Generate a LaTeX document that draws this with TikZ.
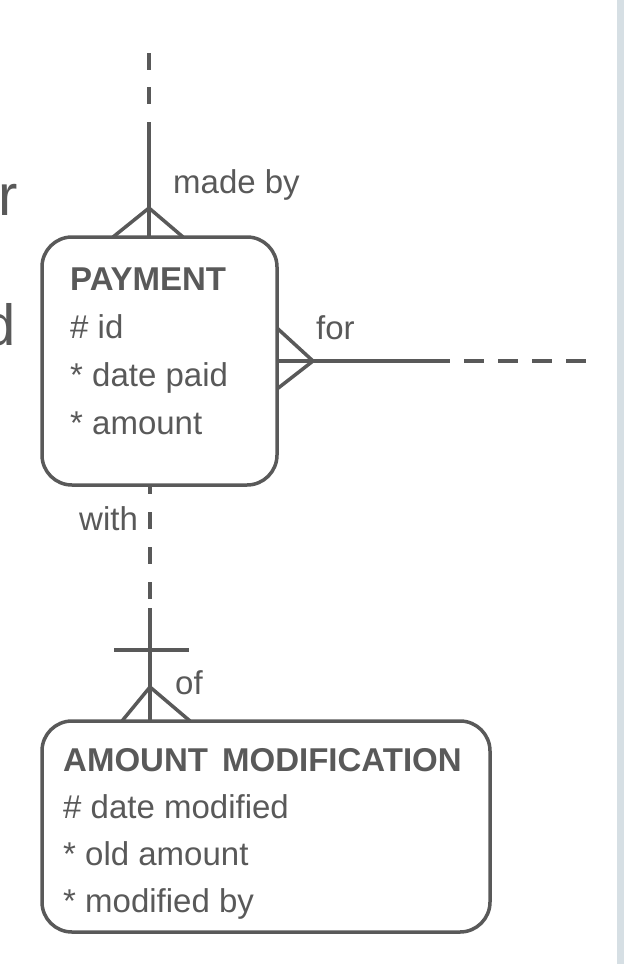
\documentclass[tikz,border=0pt]{standalone}
\usepackage{fontspec}
\setmainfont{Liberation Sans}
\usetikzlibrary{positioning, calc}
\definecolor{ergray}{RGB}{89,89,89}
\definecolor{sidebar}{RGB}{214,223,228}

\begin{document}
\begin{tikzpicture}[x=1pt, y=-1pt, every node/.style={font=\fontsize{33}{40}\selectfont, text=ergray, inner sep=0pt},
  entity/.style={draw=ergray, line width=3.5pt, rounded corners=30pt, anchor=north west, outer sep=0pt},
  rel/.style={draw=ergray, line width=3.5pt},
  attr/.style={anchor=base west},
  nbr/.style={anchor=base west, font=\fontsize{58}{60}\selectfont}]
\useasboundingbox (0,0) rectangle (624,964);
\fill[sidebar] (617,0) rectangle (624,964);
% Cut-off text of the neighbour entity
\node[nbr] (NbrR) at (-2,215) {r};
\node[nbr] (NbrD) at (-17,345) {d};
% Entities
\node[entity, minimum width=235pt, minimum height=248pt] (Payment) at (42,237) {};
\node[attr] (PayTitle) at (70,290) {\bfseries PAYMENT};
\foreach \row [count=\i] in {\# id, * date paid, * amount}
  \node[attr] (PayRow\i) at (70,290+48*\i) {\row};
\node[entity, minimum width=448pt, minimum height=211pt] (Modif) at (42,721) {};
\node[attr] (ModTitle) at (63,771) {\bfseries AMOUNT\hspace{5pt} MODIFICATION};
\foreach \row [count=\i] in {\# date modified, * old amount, * modified by}
  \node[attr] (ModRow\i) at (63,771+47*\i) {\row};
% made by
\coordinate (MadeEnd) at (149,53);
\coordinate (MadeDash) at (149,105);
\coordinate (MadeSolid) at (149,122);
\coordinate (MadeApex) at (149,208);
\draw[rel, dash pattern=on 17pt off 17pt] (MadeEnd) -- (MadeDash);
\draw[rel] (MadeSolid) -- (MadeSolid |- Payment.north);
\draw[rel] ($(MadeApex |- Payment.north)+(-36,0)$) -- (MadeApex) -- ($(MadeApex |- Payment.north)+(34,0)$);
\node[attr] (MadeBy) at (173,193) {made by};
% for
\coordinate (ForApex) at (313,361);
\coordinate (ForSolid) at (430,361);
\coordinate (ForEnd) at (586,361);
\draw[rel] (Payment.east) -- (ForSolid);
\draw[rel, dash pattern=on 20pt off 14pt] (ForSolid) -- (ForEnd);
\draw[rel] ($(ForApex -| Payment.east)+(0,-33)$) -- (ForApex) -- ($(ForApex -| Payment.east)+(0,28)$);
\node[attr] (For) at (316,339) {for};
% with / of
\coordinate (WithDash) at (150,605);
\coordinate (WithSolid) at (150,608);
\coordinate (OfApex) at (150,687);
\draw[rel, dash pattern=on 17pt off 18pt, dash phase=8pt] (OfApex |- Payment.south) -- (WithDash);
\draw[rel] (WithSolid) -- (OfApex |- Modif.north);
\draw[rel] ($(OfApex)+(-36,-37)$) -- ($(OfApex)+(39,-37)$);
\draw[rel] ($(OfApex |- Modif.north)+(-28,0)$) -- (OfApex) -- ($(OfApex |- Modif.north)+(40,0)$);
\node[attr] (With) at (79,530) {with};
\node[attr] (Of) at (175,694) {of};
\end{tikzpicture}
\end{document}
